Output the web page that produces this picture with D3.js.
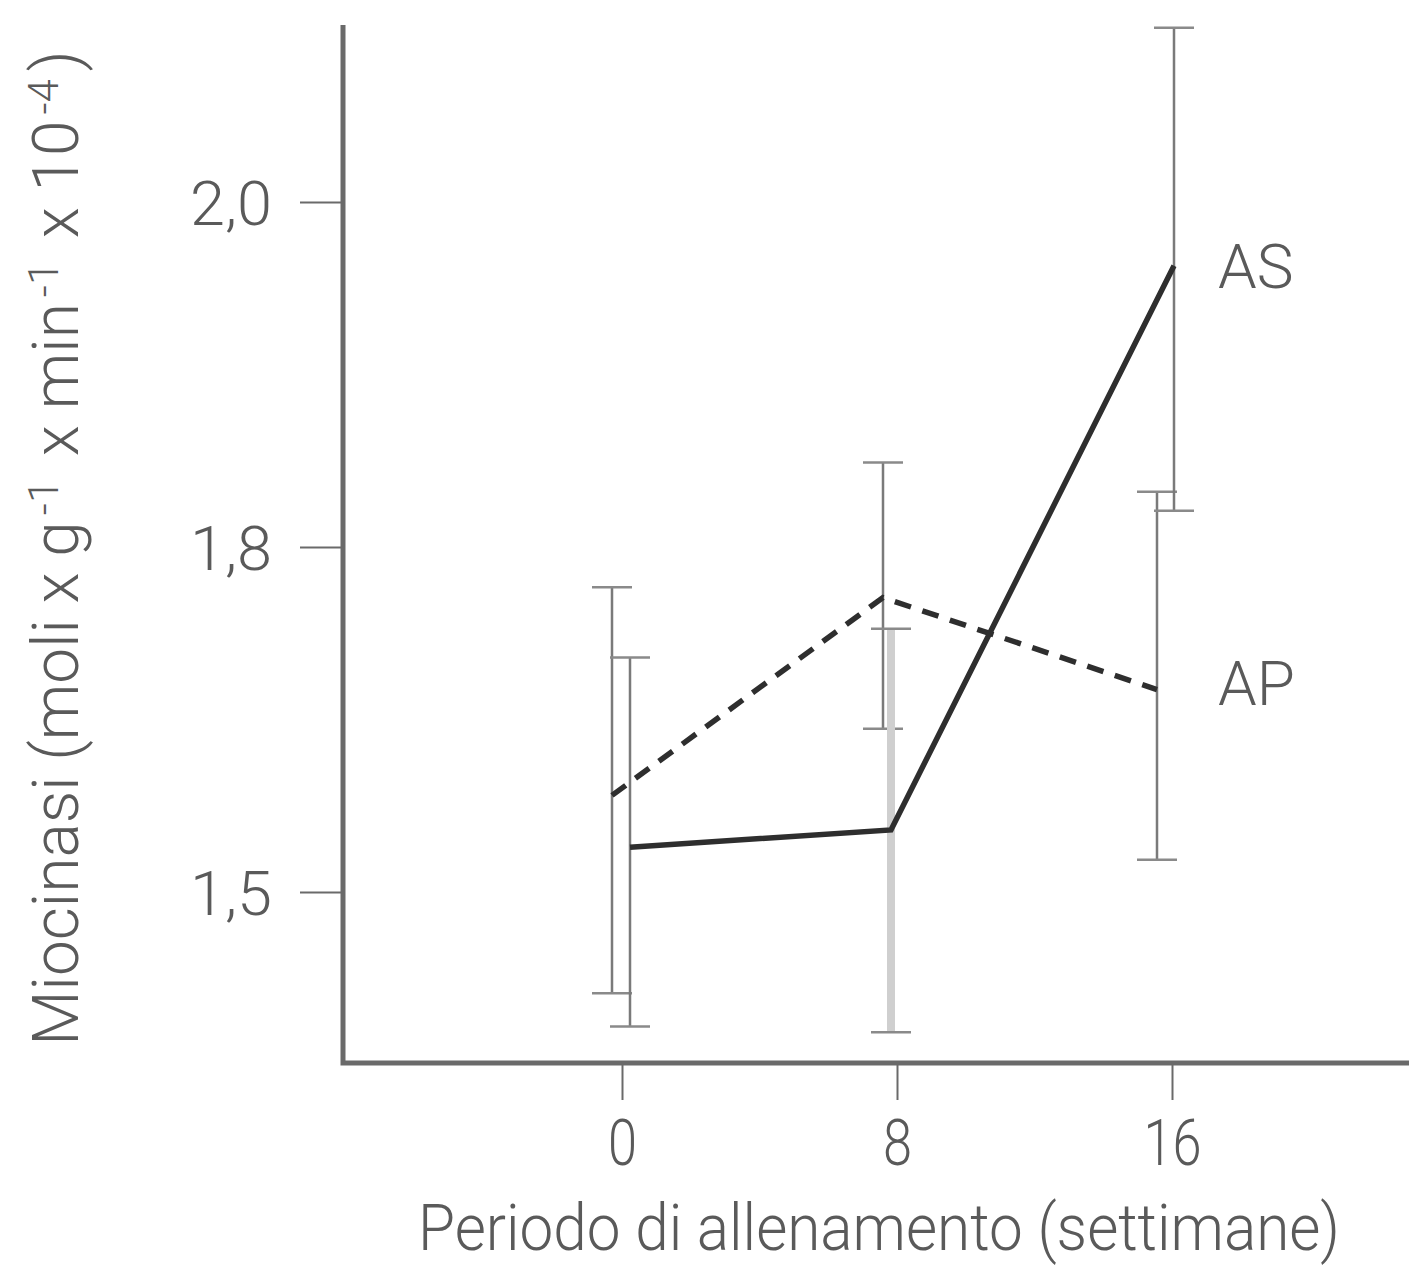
<!DOCTYPE html>
<html>
<head>
<meta charset="utf-8">
<script src="https://cdn.jsdelivr.net/npm/d3@7"></script>
<style>
  body { margin: 0; background: #fff; }
  text { font-family: Roboto, "DejaVu Sans", sans-serif; font-weight: 300; fill: #5a5a5a; }
</style>
</head>
<body>
<div id="chart"></div>
<script>
// weeks of training
var weeks = [0, 8, 16];
var yTicks = [1.5, 1.8, 2.0];

// AS (solid) and AP (dashed) series: mean, upper and lower error
var asMean = [1.539, 1.554, 1.963];
var asHigh = [1.704, 1.729, 2.101];
var asLow  = [1.383, 1.378, 1.821];

var apMean = [1.584, 1.756, 1.676];
var apHigh = [1.765, 1.849, 1.832];
var apLow  = [1.412, 1.642, 1.528];

var width = 1409, height = 1269;

var svg = d3.select("#chart")
    .append("svg")
    .attr("width", width)
    .attr("height", height);

var axisX = 343, axisY = 1063;

var x = d3.scaleLinear().domain([0, 16]).range([622, 1172]);
// the printed axis spaces 1,5 / 1,8 / 2,0 evenly
var y = d3.scaleLinear().domain([1.5, 1.8, 2.0]).range([892, 547, 202]);

// series styles (small horizontal nudges so the bars don't overlap)
var series = [
    { name: "AP", mean: apMean, high: apHigh, low: apLow, dx: [-10, -14, -15],
      dash: "17,12", barColor: ["#7a7a7a", "#7a7a7a", "#7a7a7a"], barWidth: [2.5, 2.5, 2.5] },
    { name: "AS", mean: asMean, high: asHigh, low: asLow, dx: [8, -6, 2],
      dash: null, barColor: ["#7a7a7a", "#cfcfcf", "#7a7a7a"], barWidth: [2.5, 8, 2.5] }
];

// error bars
series.forEach(function (s) {
    var g = svg.append("g");
    weeks.forEach(function (w, i) {
        var cx = x(w) + s.dx[i];
        g.append("line")
            .attr("x1", cx).attr("x2", cx)
            .attr("y1", y(s.high[i])).attr("y2", y(s.low[i]))
            .attr("stroke", s.barColor[i])
            .attr("stroke-width", s.barWidth[i]);
        [s.high[i], s.low[i]].forEach(function (v) {
            g.append("line")
                .attr("x1", cx - 20).attr("x2", cx + 20)
                .attr("y1", y(v)).attr("y2", y(v))
                .attr("stroke", "#8a8a8a")
                .attr("stroke-width", 2.5);
        });
    });
});

// mean lines
series.forEach(function (s) {
    var line = d3.line()
        .x(function (d, i) { return x(weeks[i]) + s.dx[i]; })
        .y(function (d) { return y(d); });
    svg.append("path")
        .datum(s.mean)
        .attr("d", line)
        .attr("fill", "none")
        .attr("stroke", "#2e2e2e")
        .attr("stroke-width", 5.5)
        .attr("stroke-dasharray", s.dash);
});

// frame
svg.append("path")
    .attr("d", "M" + axisX + ",25V" + axisY + "H" + width)
    .attr("fill", "none")
    .attr("stroke", "#6a6a6a")
    .attr("stroke-width", 5);

// y axis ticks
var yAxis = svg.append("g")
    .attr("transform", "translate(" + axisX + ",0)")
    .call(d3.axisLeft(y).tickValues(yTicks).tickSize(43).tickPadding(28)
        .tickFormat(function (d) { return d3.format(".1f")(d).replace(".", ","); }));
yAxis.select(".domain").remove();
yAxis.selectAll(".tick line").attr("stroke", "#6a6a6a").attr("stroke-width", 2);
yAxis.selectAll(".tick text")
    .attr("font-size", 62)
    .attr("dy", "0.36em")
    .attr("textLength", 82)
    .attr("lengthAdjust", "spacingAndGlyphs")
    .style("fill", "#5a5a5a");

// x axis ticks
var xAxis = svg.append("g")
    .attr("transform", "translate(0," + axisY + ")")
    .call(d3.axisBottom(x).tickValues(weeks).tickSize(37).tickPadding(20));
xAxis.select(".domain").remove();
xAxis.selectAll(".tick line").attr("stroke", "#6a6a6a").attr("stroke-width", 2);
xAxis.selectAll(".tick text")
    .attr("font-size", 64)
    .attr("dy", "0.71em")
    .attr("textLength", function (d) { return d >= 10 ? 58 : 29; })
    .attr("lengthAdjust", "spacingAndGlyphs")
    .style("fill", "#5a5a5a");

// axis titles
svg.append("text")
    .attr("x", 879)
    .attr("y", 1250)
    .attr("text-anchor", "middle")
    .attr("font-size", 64)
    .attr("textLength", 922)
    .attr("lengthAdjust", "spacingAndGlyphs")
    .text("Periodo di allenamento (settimane)");

var yTitle = svg.append("text")
    .attr("transform", "translate(78,548) rotate(-90)")
    .attr("text-anchor", "middle")
    .attr("font-size", 64);
var parts = [
    ["Miocinasi (moli x g", false], ["-1", true], [" x min", false], ["-1", true],
    [" x 10", false], ["-4", true], [")", false]
];
parts.forEach(function (p) {
    var t = yTitle.append("tspan").text(p[0]);
    if (p[1]) t.attr("font-size", 42).attr("dy", -20).attr("dx", 6);
    else t.attr("dy", 20).attr("dx", 8);
});
yTitle.select("tspan").attr("dy", 0).attr("dx", 0);

// series labels
svg.append("text").attr("x", 1218).attr("y", 288).attr("font-size", 62).text("AS");
svg.append("text").attr("x", 1218).attr("y", 705).attr("font-size", 62).text("AP");
</script>
</body>
</html>
